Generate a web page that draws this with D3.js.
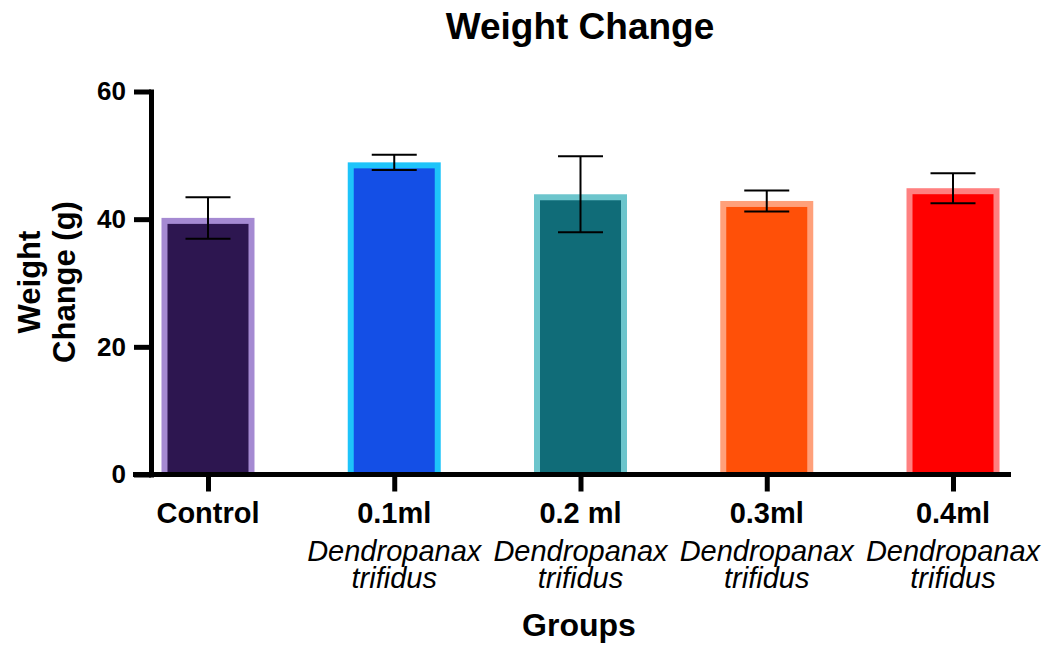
<!DOCTYPE html>
<html>
<head>
<meta charset="utf-8">
<script src="https://cdn.jsdelivr.net/npm/d3@7"></script>
<style>
  body { margin: 0; background: #fff; }
  svg { font-family: "Liberation Sans", Arial, sans-serif; }
</style>
</head>
<body>
<script>
const groups = ["Control", "0.1ml", "0.2 ml", "0.3ml", "0.4ml"];
const subLabels = [null, "Dendropanax trifidus", "Dendropanax trifidus", "Dendropanax trifidus", "Dendropanax trifidus"];
const means = [40.2, 48.9, 43.9, 42.85, 44.85];
const errors = [3.25, 1.2, 5.95, 1.65, 2.35];
const fills = ["#2d1650", "#144fe6", "#106c78", "#ff5008", "#ff0000"];
const borders = ["#a58ad2", "#1ec4fa", "#6cc5cc", "#ffa07a", "#ff8080"];
const yTicks = [0, 20, 40, 60];

let width = 1044, height = 647;

let svg = d3.select("body").append("svg")
    .attr("width", width)
    .attr("height", height);

let x = d3.scalePoint()
    .domain(groups)
    .range([151, 1010])
    .padding(0.306);

let y = d3.scaleLinear()
    .domain([0, 60])
    .range([474.5, 91.5]);

const barW = 93, border = 6, capW = 45;

// bars: light outer rect for the border, dark inner rect for the fill
let bars = svg.append("g").selectAll("g")
    .data(groups)
    .enter().append("g");

bars.append("rect")
    .attr("x", d => x(d) - barW / 2)
    .attr("y", (d, i) => y(means[i]))
    .attr("width", barW)
    .attr("height", (d, i) => y(0) - y(means[i]))
    .attr("fill", (d, i) => borders[i]);

bars.append("rect")
    .attr("x", d => x(d) - barW / 2 + border)
    .attr("y", (d, i) => y(means[i]) + border)
    .attr("width", barW - 2 * border)
    .attr("height", (d, i) => y(0) - y(means[i]) - border)
    .attr("fill", (d, i) => fills[i]);

// error bars
let err = svg.append("g")
    .attr("stroke", "#000")
    .attr("stroke-width", 2);

groups.forEach((g, i) => {
    let cx = x(g), hi = y(means[i] + errors[i]), lo = y(means[i] - errors[i]);
    err.append("line").attr("x1", cx).attr("x2", cx).attr("y1", hi).attr("y2", lo);
    err.append("line").attr("x1", cx - capW / 2).attr("x2", cx + capW / 2).attr("y1", hi).attr("y2", hi);
    err.append("line").attr("x1", cx - capW / 2).attr("x2", cx + capW / 2).attr("y1", lo).attr("y2", lo);
});

// y axis
let yAxis = svg.append("g")
    .attr("transform", "translate(151,0)")
    .call(d3.axisLeft(y).tickValues(yTicks).tickSize(17).tickPadding(8).tickSizeOuter(0));
yAxis.select(".domain").attr("stroke-width", 5).attr("stroke-linecap", "square");
yAxis.selectAll(".tick line").attr("stroke-width", 5);
yAxis.selectAll(".tick text")
    .attr("font-size", 26)
    .attr("font-weight", "bold")
    .attr("fill", "#000");

// x axis
let xAxis = svg.append("g")
    .attr("transform", "translate(0," + y(0) + ")")
    .call(d3.axisBottom(x).tickSize(17).tickSizeOuter(0).tickFormat(""));
xAxis.select(".domain").attr("d", "M133,0H1011").attr("stroke-width", 5);
xAxis.selectAll(".tick line").attr("stroke-width", 5);

let labels = svg.append("g").selectAll("text")
    .data(groups)
    .enter().append("text")
    .attr("text-anchor", "middle")
    .attr("font-size", 29)
    .attr("fill", "#000");

labels.append("tspan")
    .attr("x", d => x(d))
    .attr("y", 523)
    .attr("font-weight", "bold")
    .text(d => d);

labels.each(function (d, i) {
    if (!subLabels[i]) return;
    let words = subLabels[i].split(" ");
    words.forEach((w, j) => {
        d3.select(this).append("tspan")
            .attr("x", x(d))
            .attr("y", 561 + j * 27)
            .attr("font-style", "italic")
            .text(w);
    });
});

// title
svg.append("text")
    .attr("x", 580)
    .attr("y", 39)
    .attr("text-anchor", "middle")
    .attr("font-size", 37)
    .attr("font-weight", "bold")
    .text("Weight Change");

// x title
svg.append("text")
    .attr("x", 579)
    .attr("y", 636)
    .attr("text-anchor", "middle")
    .attr("font-size", 32)
    .attr("font-weight", "bold")
    .text("Groups");

// y title
let yt = svg.append("text")
    .attr("transform", "translate(0,282) rotate(-90)")
    .attr("text-anchor", "middle")
    .attr("font-size", 31)
    .attr("font-weight", "bold");
yt.append("tspan").attr("x", 0).attr("y", 40).text("Weight");
yt.append("tspan").attr("x", 0).attr("y", 75).text("Change (g)");
</script>
</body>
</html>
